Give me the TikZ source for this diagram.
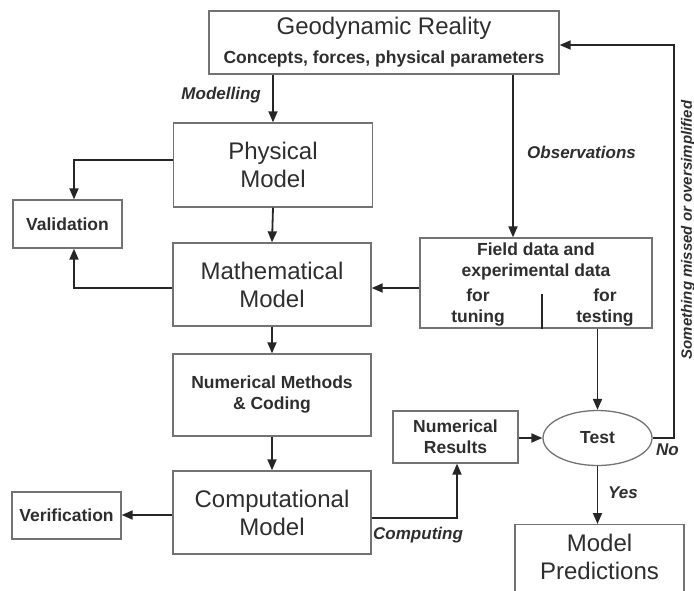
\documentclass[tikz,border=0pt]{standalone}
\usepackage{fontspec}
\setmainfont{Liberation Sans}
\usepackage{tikz}
\usetikzlibrary{arrows.meta,positioning,shapes.geometric}
\definecolor{txtgray}{gray}{0.18}
\definecolor{boxgray}{gray}{0.45}
\definecolor{arrowgray}{gray}{0.15}
\tikzset{
  box/.style={draw=boxgray,line width=1.3pt,align=center,inner sep=0pt,text=txtgray},
  big/.style={font=\fontsize{24}{28}\selectfont},
  bold/.style={font=\fontsize{17.5}{21}\selectfont\bfseries,text=txtgray,align=center},
  lbl/.style={font=\fontsize{17}{20}\selectfont\bfseries\itshape,text=txtgray,inner sep=0pt},
  flow/.style={-{Triangle[length=11pt,width=9pt]},line width=1.8pt,draw=arrowgray},
  every node/.style={font=\small}
}

\begin{document}
\begin{tikzpicture}[x=1pt,y=-1pt]
  \useasboundingbox (0,0) rectangle (694,590);
  \clip (0,0) rectangle (694,590);
  % boxes
  \node[box,minimum width=350,minimum height=63,font=\fontsize{17.5}{29}\selectfont] (geo) at (384,42.5)
    {{\fontsize{24}{29}\selectfont Geodynamic Reality}\\{\bfseries Concepts, forces, physical parameters}};
  \node[box,big,minimum width=199,minimum height=84] (phys) at (273,165) {Physical\\Model};
  \node[box,big,minimum width=198,minimum height=83] (math) at (272,284.5) {Mathematical\\Model};
  \node[box,bold,minimum width=198,minimum height=82] (num) at (272,395) {Numerical Methods\\\& Coding};
  \node[box,big,minimum width=198,minimum height=83] (comp) at (272,512.5) {Computational\\Model};
  \node[box,bold,minimum width=109,minimum height=48] (valid) at (67.5,224) {Validation};
  \node[box,bold,minimum width=109,minimum height=47] (verif) at (66.5,515.5) {Verification};
  \node[box,minimum width=232,minimum height=90] (field) at (536,283) {};
  \node[bold] (fieldtxt) at (536,261) {Field data and\\experimental data};
  \node[bold] (tune) at (478,308) {for\\tuning};
  \node[bold] (testing) at (605,308) {for\\testing};
  \node[box,bold,minimum width=125,minimum height=52] (res) at (455.5,437) {Numerical\\Results};
  \node[box,bold,ellipse,minimum width=109,minimum height=55] (test) at (597.5,438) {Test};
  \node[box,big,minimum width=169,minimum height=76,text depth=12pt,anchor=north] (pred) at (599.5,524)
    {Model\\Predictions};
  \draw[line width=1.8pt,arrowgray] (542,294) -- (field.south -| 542,0);
  % connectors
  \draw[flow] (geo.south -| phys.north) -- (phys.north);
  \draw[flow] (phys.south) -- (math.north);
  \draw[flow] (math.south) -- (num.north);
  \draw[flow] (num.south) -- (comp.north);
  \draw[flow] (geo.south -| 513,0) -- (field.north -| 513,0);
  \draw[flow] (field.west |- 0,288) -- (math.east |- 0,288);
  \draw[flow] (phys.west |- 0,160) -| (valid.north -| 74,0);
  \draw[flow] (math.west |- 0,288) -| (valid.south -| 74,0);
  \draw[flow] (comp.west |- 0,515) -- (verif.east |- 0,515);
  \draw[flow] (comp.east |- 0,518) -| (res.south -| 457,0);
  \draw[flow] (res.east |- 0,438) -- (test.west);
  \draw[flow] (field.south -| test.north) -- (test.north);
  \draw[flow] (test.east) -| (674,45) -- (geo.east |- 0,45);
  \draw[flow] (test.south) -- (pred.north -| test.south);
  % labels
  \node[lbl,anchor=east] (modlbl) at (261,95) {Modelling};
  \node[lbl,anchor=west] (obslbl) at (527,152) {Observations};
  \node[lbl,anchor=west] (nolbl) at (656,450) {No};
  \node[lbl,anchor=west] (yeslbl) at (608,493) {Yes};
  \node[lbl,anchor=west] (complbl) at (373,535) {Computing};
  \node[lbl,font=\fontsize{15}{18}\selectfont\bfseries\itshape,rotate=90] (misslbl) at (688,230)
    {Something missed or oversimplified};
\end{tikzpicture}
\end{document}
